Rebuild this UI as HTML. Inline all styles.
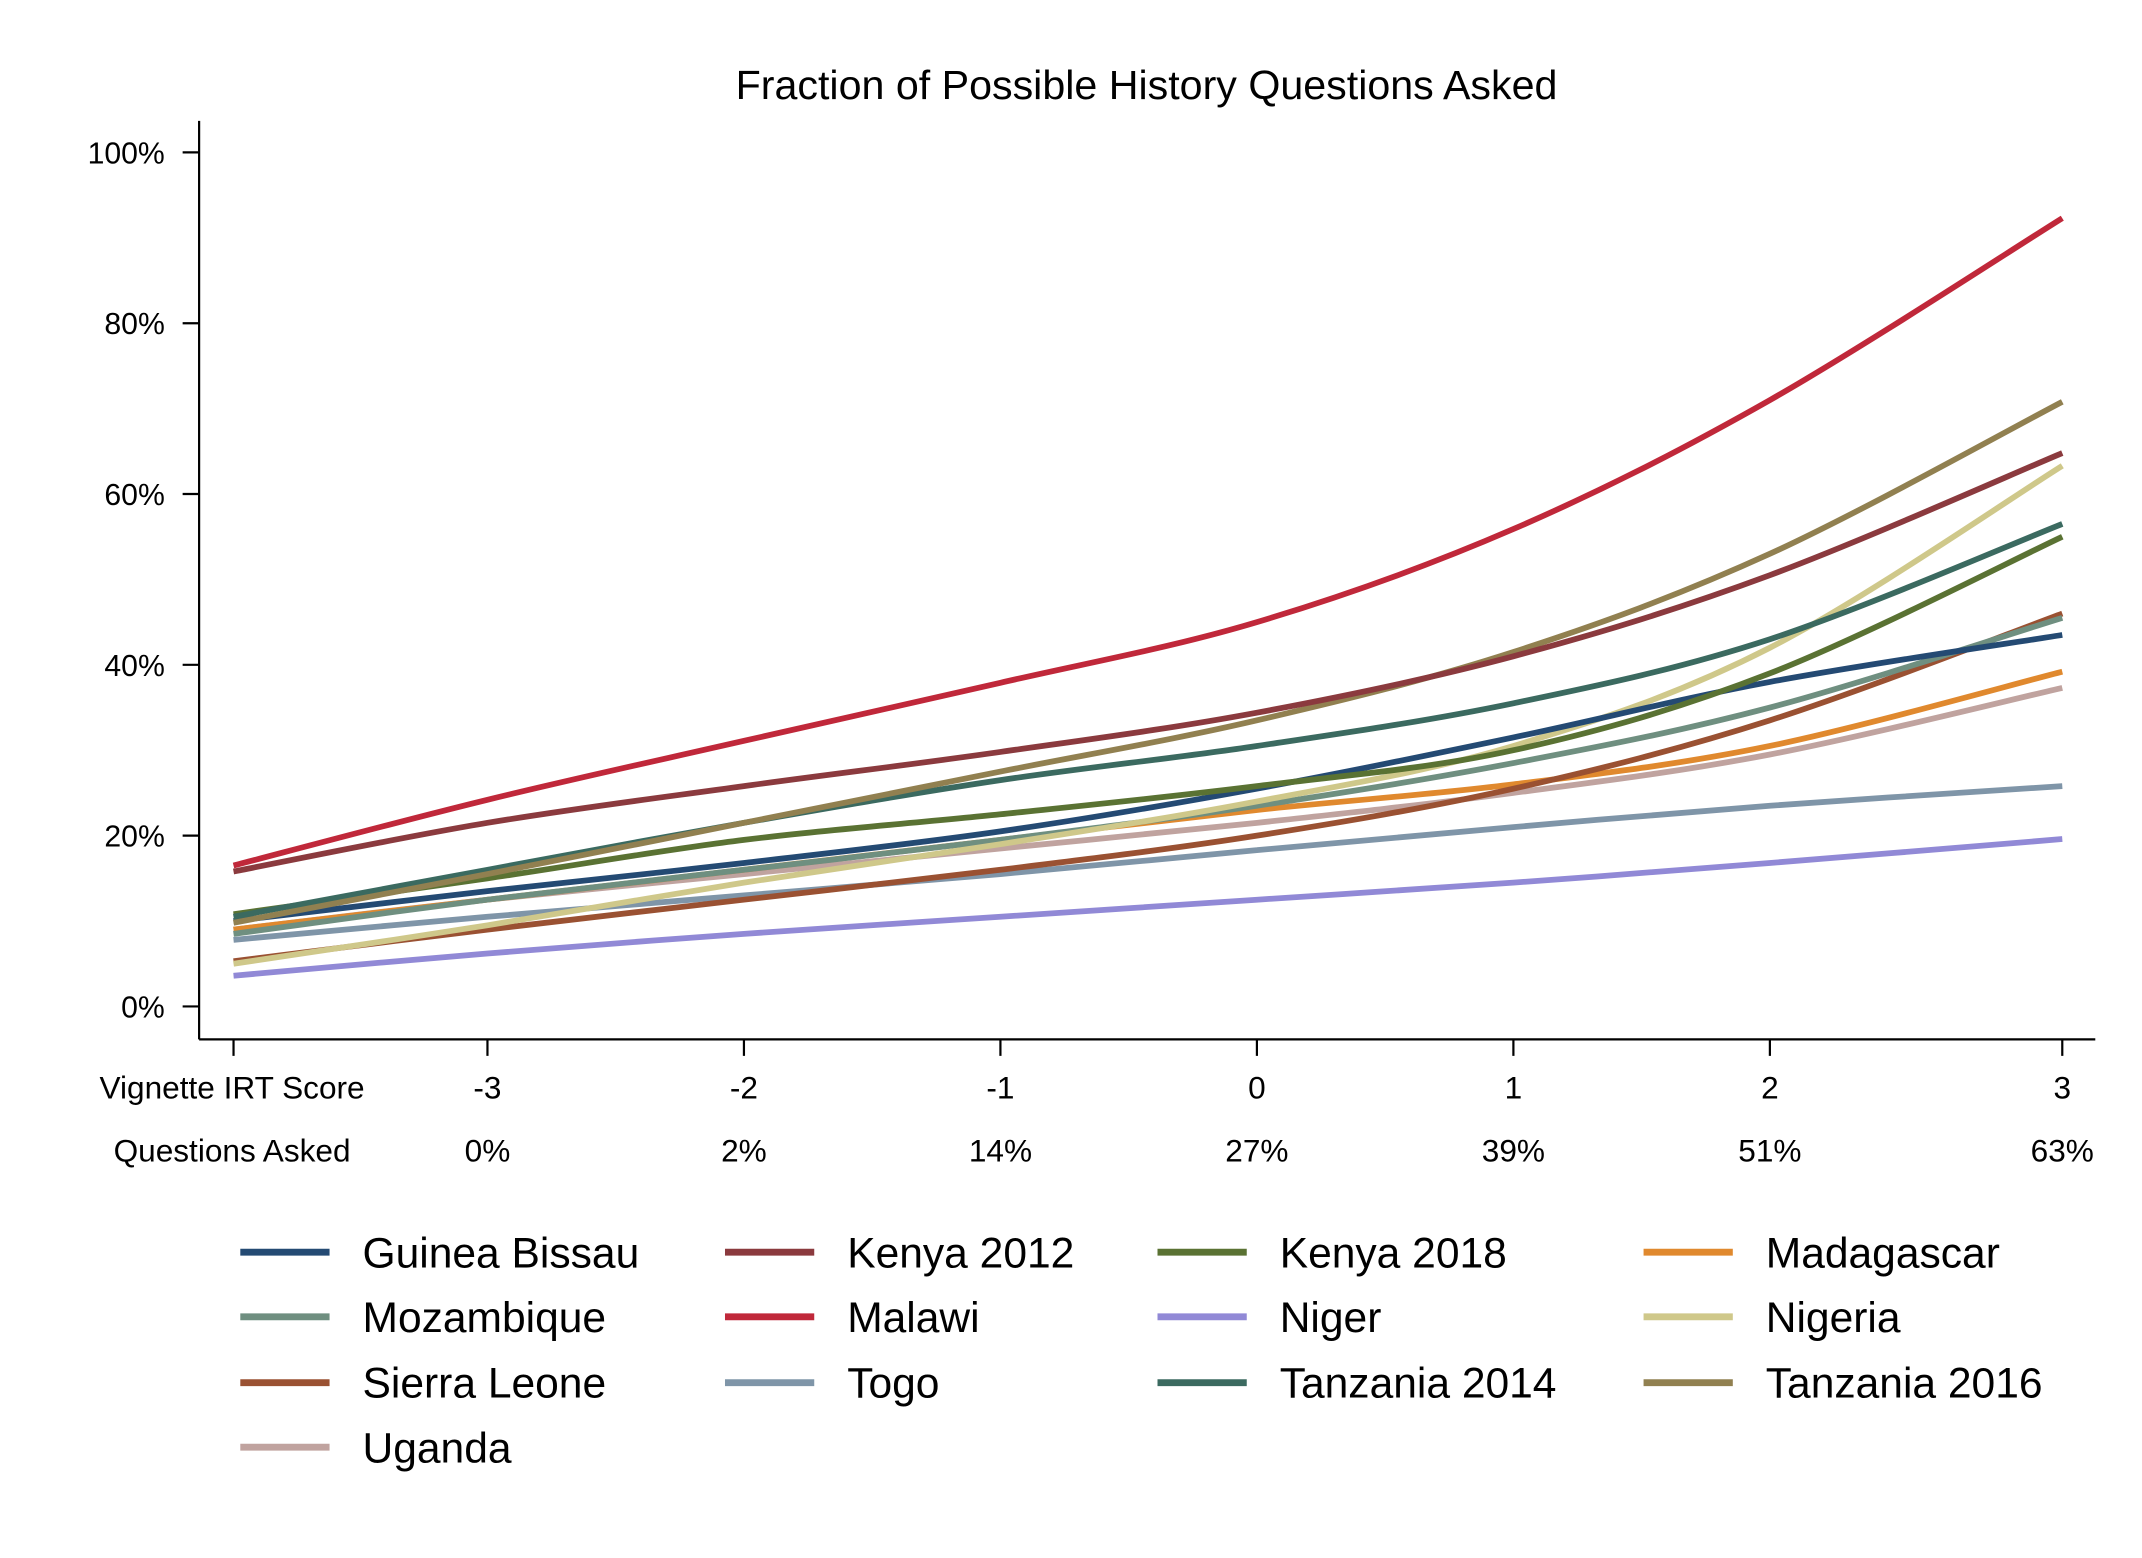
<!DOCTYPE html>
<html><head><meta charset="utf-8">
<style>
html,body{margin:0;padding:0;background:#fff;}
svg{display:block;font-family:"Liberation Sans",Arial,sans-serif;}
</style></head>
<body>
<svg id="chart" width="2142" height="1558" viewBox="0 0 1560 1134.7" xmlns="http://www.w3.org/2000/svg">
<rect width="1560" height="1135" fill="#fff"/>
<text x="835" y="72" font-size="30" text-anchor="middle" fill="#000">Fraction of Possible History Questions Asked</text>
<g id="axes"></g>
<g id="series"></g>
<g id="legend"></g>
</svg>
<script>
const xVals = [-3.99, -3, -2, -1, 0, 1, 2, 3.14];
const xTickVals = [-3.99, -3, -2, -1, 0, 1, 2, 3.14];
const xTickLabels = ["", "-3", "-2", "-1", "0", "1", "2", "3"];
const qAskedLabels = ["", "0%", "2%", "14%", "27%", "39%", "51%", "63%"];
const yTickVals = [0, 20, 40, 60, 80, 100];
const seriesNames = ["Guinea Bissau","Kenya 2012","Kenya 2018","Madagascar","Mozambique","Malawi","Niger","Nigeria","Sierra Leone","Togo","Tanzania 2014","Tanzania 2016","Uganda"];
const seriesColors = ["#244a73","#8b3a3e","#5a7233","#e0892e","#6f8f80","#c0283a","#9189d6","#cfc88a","#9a5132","#7f95a8","#3b6a60","#918050","#c0a39f"];
const guineaBissau = [10, 13.5, 16.8, 20.5, 25.5, 31.5, 38, 43.5];
const kenya2012 = [15.8, 21.5, 25.8, 29.8, 34.4, 41, 50.5, 64.8];
const kenya2018 = [10.8, 15, 19.5, 22.5, 25.8, 30, 39, 55];
const madagascar = [9, 12.5, 16, 19.5, 23, 26, 30.5, 39.2];
const mozambique = [8.5, 12.5, 16, 19.5, 23.5, 28.5, 35, 45.5];
const malawi = [16.5, 24.2, 31.1, 37.9, 45, 55.9, 71, 92.3];
const niger = [3.6, 6.2, 8.5, 10.5, 12.5, 14.5, 16.8, 19.6];
const nigeria = [5, 9.5, 14.5, 19, 24, 30.5, 42, 63.3];
const sierraLeone = [5.3, 9, 12.5, 16, 20, 25.5, 33.5, 46];
const togo = [7.8, 10.5, 13, 15.5, 18.3, 21, 23.5, 25.8];
const tanzania2014 = [10.5, 16, 21.5, 26.5, 30.5, 35.5, 43, 56.5];
const tanzania2016 = [9.8, 15.5, 21.5, 27.5, 33.5, 41.5, 53, 70.8];
const uganda = [9, 12.5, 15.5, 18.5, 21.5, 25, 29.5, 37.3];
const seriesData = [guineaBissau,kenya2012,kenya2018,madagascar,mozambique,malawi,niger,nigeria,sierraLeone,togo,tanzania2014,tanzania2016,uganda];
const drawOrder = [6,9,12,3,8,4,7,0,2,10,11,1,5];

const NS="http://www.w3.org/2000/svg";
const xs = v => 355 + (v + 3) * 186.8;
const ys = v => 733 - v * 6.22;
function mk(tag, attrs, parent){const e=document.createElementNS(NS,tag);for(const k in attrs)e.setAttribute(k,attrs[k]);parent.appendChild(e);return e;}
const axes=document.getElementById('axes');
let e;
e=mk('line',{x1:145,y1:88,x2:145,y2:757,stroke:'#000','stroke-width':1.6},axes);


e=mk('line',{x1:145,y1:757,x2:1526,y2:757,stroke:'#000','stroke-width':1.6},axes);


yTickVals.forEach(v=>{
  const t=mk('line',{x1:133,x2:145,y1:ys(v),y2:ys(v),stroke:'#000','stroke-width':1.6},axes);
  
  
  const l=mk('text',{x:120,y:ys(v)+8,'font-size':22,'text-anchor':'end'},axes);
  l.textContent=v+'%';
  
  
});
xTickVals.forEach((v,i)=>{
  const t=mk('line',{x1:xs(v),x2:xs(v),y1:757,y2:769,stroke:'#000','stroke-width':1.6},axes);
  
  
  const lab = i===0 ? 'Vignette IRT Score' : xTickLabels[i];
  const l=mk('text',{x:i===0?169:xs(v),y:800,'font-size':23,'text-anchor':'middle'},axes);
  l.textContent=lab;
  
  
  const q = i===0 ? 'Questions Asked' : qAskedLabels[i];
  const l2=mk('text',{x:i===0?169:xs(v),y:846,'font-size':23,'text-anchor':'middle'},axes);
  l2.textContent=q;
  
  
});
function path(vals){
  const p=vals.map((v,i)=>[xs(xVals[i]),ys(v)]);
  let d='M'+p[0][0]+','+p[0][1];
  for(let i=0;i<p.length-1;i++){
    const p0=p[Math.max(i-1,0)],p1=p[i],p2=p[i+1],p3=p[Math.min(i+2,p.length-1)];
    const c1=[p1[0]+(p2[0]-p0[0])/6,p1[1]+(p2[1]-p0[1])/6];
    const c2=[p2[0]-(p3[0]-p1[0])/6,p2[1]-(p3[1]-p1[1])/6];
    d+=' C'+c1[0]+','+c1[1]+' '+c2[0]+','+c2[1]+' '+p2[0]+','+p2[1];
  }
  return d;
}
const sg=document.getElementById('series');
drawOrder.forEach(i=>{
  const pe=mk('path',{d:path(seriesData[i]),fill:'none',stroke:seriesColors[i],'stroke-width':4.2},sg);
  
  
});
const lg=document.getElementById('legend');
const colX=[175,528,843,1197], rowY=[912,959,1007,1054];
seriesNames.forEach((n,i)=>{
  const cx=colX[i%4], cy=rowY[Math.floor(i/4)];
  const g=mk('g',{},lg);
  
  
  mk('line',{x1:cx,x2:cx+65,y1:cy,y2:cy,stroke:seriesColors[i],'stroke-width':5},g);
  const t=mk('text',{x:cx+89,y:cy+11,'font-size':31},g);
  t.textContent=n;
});
</script>
</body></html>
